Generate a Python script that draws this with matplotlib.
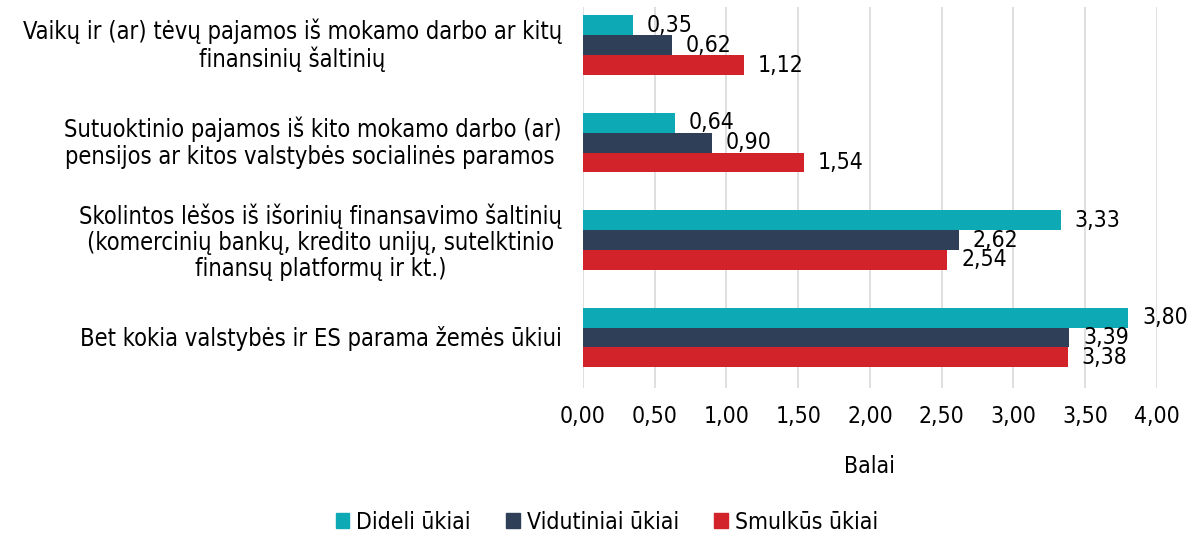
import numpy as np
import matplotlib.pyplot as plt
import matplotlib.transforms as mtransforms
from matplotlib.patches import Patch

plt.rcParams['font.family'] = ['DejaVu Sans']
plt.rcParams['font.stretch'] = 'condensed'

categories = ["Vaikų ir (ar) tėvų pajamos iš mokamo darbo ar kitų\nfinansinių šaltinių",
              "Sutuoktinio pajamos iš kito mokamo darbo (ar)\npensijos ar kitos valstybės socialinės paramos ",
              "Skolintos lėšos iš išorinių finansavimo šaltinių\n(komercinių bankų, kredito unijų, sutelktinio\nfinansų platformų ir kt.)",
              "Bet kokia valstybės ir ES parama žemės ūkiui"]
series = ["Dideli ūkiai", "Vidutiniai ūkiai", "Smulkūs ūkiai"]
dideli = [0.35, 0.64, 3.33, 3.80]
vidutiniai = [0.62, 0.90, 2.62, 3.39]
smulkus = [1.12, 1.54, 2.54, 3.38]
colors = ['#0DA9B5', '#2F3F57', '#D2232A']
xticks = [0, 0.5, 1, 1.5, 2, 2.5, 3, 3.5, 4]

fig = plt.figure(figsize=(11.97, 5.34), dpi=100)
ax = fig.add_axes([0.487, 0.2734, 0.4795, 0.7135])

y = np.arange(len(categories))
h = 0.205
fs = 16.5
for k, (vals, col) in enumerate(zip([dideli, vidutiniai, smulkus], colors)):
    pos = y + (k - 1) * h
    ax.barh(pos, vals, height=h, color=col, zorder=3)
    for p, v in zip(pos, vals):
        ax.annotate(f"{v:.2f}".replace('.', ','), (v, p), xytext=(10, 0),
                    textcoords='offset points', va='center', ha='left', fontsize=fs)

ax.set_ylim(3.518, -0.39)
ax.set_xlim(0, 4.0)
ax.set_xticks(xticks)
ax.set_xticklabels([f"{t:.2f}".replace('.', ',') for t in xticks], fontsize=fs)
ax.set_yticks(y)
ax.set_yticklabels(categories, fontsize=17, multialignment='center', linespacing=1.12)
ax.tick_params(axis='y', length=0, pad=15)
ax.tick_params(axis='x', length=0, pad=12)
# two-line labels sit a little higher in the original
for lab in ax.get_yticklabels():
    dy = 2.5 if lab.get_text().count('\n') == 1 else 1
    lab.set_transform(lab.get_transform() +
                      mtransforms.ScaledTranslation(0, dy / 72, fig.dpi_scale_trans))
ax.grid(axis='x', color='#D9D9D9', linewidth=1.2, zorder=0)
for s in ax.spines.values():
    s.set_visible(False)
ax.set_xlabel("Balai", fontsize=fs, labelpad=20)

handles = [Patch(color=c) for c in colors]
fig.legend(handles, series, loc='center', bbox_to_anchor=(0.507, 0.022), ncol=3,
           frameon=False, fontsize=fs, handlelength=0.6, handleheight=0.6,
           handletextpad=0.3, columnspacing=1.55)

fig.savefig('out.png', dpi=100)
